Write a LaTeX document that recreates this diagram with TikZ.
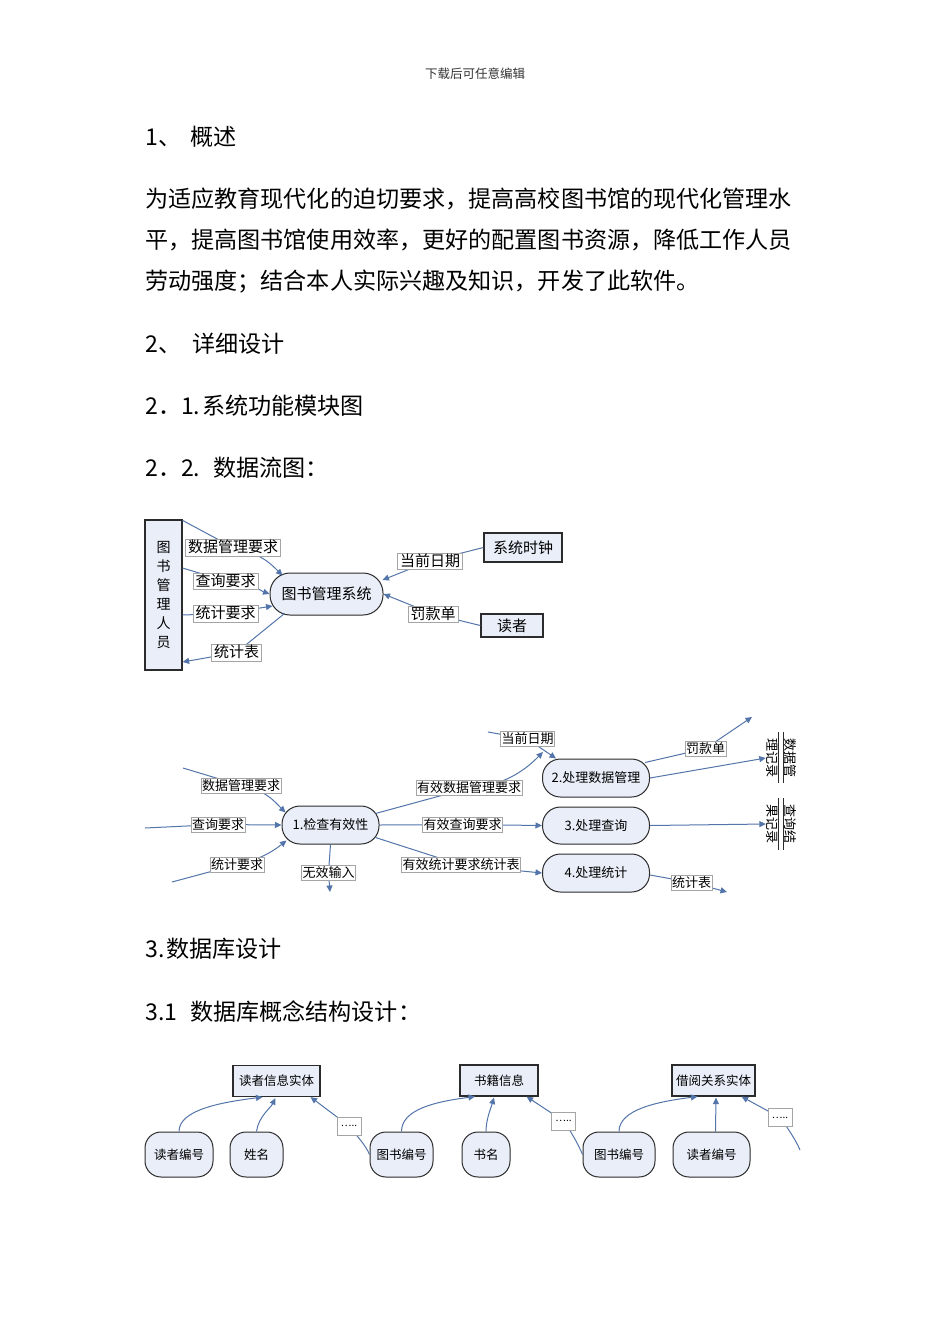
\documentclass[tikz,border=0pt]{standalone}
\usepackage{fontspec}
\setmainfont{Noto Sans CJK SC}
\usetikzlibrary{arrows.meta,calc}
\definecolor{flowc}{HTML}{5475AA}
\definecolor{nfill}{HTML}{E9EEF8}
\definecolor{lblgray}{HTML}{A5A5A5}
\definecolor{edgec}{HTML}{2B2B2B}
\newcommand{\myfs}[1]{\fontsize{#1}{#1}\selectfont}
\tikzset{
  flow/.style={draw=flowc, line width=1pt},
  arr/.style={flow, -{Triangle[length=6.5pt,width=6pt]}},
  lblone/.style={fill=white, draw=lblgray, line width=0.5pt, inner xsep=2.5pt, inner ysep=1pt, text height=12.5pt, text depth=2pt, font=\myfs{15}},
  lbltwo/.style={fill=white, draw=lblgray, line width=0.5pt, inner xsep=1pt, inner ysep=1pt, text height=11pt, text depth=2pt, font=\myfs{13}},
  extbox/.style={draw=edgec, fill=nfill, line width=1.2pt, inner sep=0pt},
  proc/.style={draw=edgec, fill=nfill, line width=1pt, inner sep=0pt, minimum width=107pt, minimum height=38pt, rounded corners=18pt, font=\myfs{13}},
  entbox/.style={draw=edgec, fill=nfill, line width=1.2pt, inner sep=0pt, minimum height=31pt, font=\myfs{12.5}},
  attrbox/.style={draw=edgec, fill=nfill, line width=1pt, inner sep=0pt, minimum height=45pt, rounded corners=16pt, font=\myfs{12.5}},
  dotbox/.style={fill=white, draw=lblgray, line width=0.5pt, inner sep=0pt, minimum width=24pt, minimum height=18pt, font=\myfs{10}},
  headtxt/.style={anchor=west, inner sep=0pt, font=\myfs{23.1}},
  store/.style={rotate=-90, align=center, inner sep=0pt, font=\fontsize{13}{18}\selectfont},
  storeline/.style={draw=edgec, line width=0.8pt},
}
\begin{document}
\begin{tikzpicture}[x=1pt,y=-1pt]
\useasboundingbox (0,0) rectangle (950,1344);
\fill[white] (0,0) rectangle (950,1344);

% ---------- text ----------
\node[font=\myfs{12.5}, text=black!80] (hdr) at (475,74) {下载后可任意编辑};
\node[headtxt] (h1) at (145,137) {\makebox[45pt][l]{1、}概述};
\node[anchor=west, inner sep=0pt, align=left, font=\fontsize{23.1}{41}\selectfont] (para) at (145,241)
  {为适应教育现代化的迫切要求，提高高校图书馆的现代化管理水\\平，提高图书馆使用效率，更好的配置图书资源，降低工作人员\\劳动强度；结合本人实际兴趣及知识，开发了此软件。};
\node[headtxt] (h2) at (145,344) {\makebox[47pt][l]{2、}详细设计};
\node[headtxt] (h21) at (145,406) {\makebox[57pt][l]{2．1.}系统功能模块图};
\node[headtxt] (h22) at (145,468) {\makebox[68pt][l]{2．2.}数据流图：};
\node[headtxt] (h3) at (145,949) {\makebox[21pt][l]{3.}数据库设计};
\node[headtxt] (h31) at (145,1012) {\makebox[45pt][l]{3.1}数据库概念结构设计：};

% ---------- diagram 1 ----------
\node[extbox, minimum width=37pt, minimum height=150pt, align=center, font=\fontsize{14}{19}\selectfont] (staff) at (163.5,595) {图\\书\\管\\理\\人\\员};
\node[proc, minimum width=113pt, minimum height=42pt, rounded corners=20pt, font=\myfs{15}] (sys) at (326.5,594) {图书管理系统};
\node[extbox, minimum width=78pt, minimum height=29pt, font=\myfs{15}] (clock) at (523,547.5) {系统时钟};
\node[extbox, minimum width=62pt, minimum height=23pt, font=\myfs{15}] (reader) at (512,625.5) {读者};

\coordinate (l1) at (233,547.5);
\coordinate (l2) at (225.5,581);
\coordinate (l3) at (225.5,613.5);
\coordinate (l4) at (236.5,652.5);
\coordinate (l5) at (430,561);
\coordinate (l6) at (433,614);

\draw[arr] ($(staff.north east)+(0,1)$) -- (l1) .. controls +(28,6) and +(-12,-12) .. ($(sys.north west)+(13,3)$);
\draw[arr] ($(staff.east)+(0,-27)$) -- (l2) .. controls +(25,2) and +(-8,-3) .. (sys.west);
\draw[arr] ($(staff.east)+(0,20)$) -- (l3) -- ($(sys.west)+(3,12)$);
\draw[arr] ($(sys.south west)+(15,-2)$) -- (l4) -- ($(staff.east)+(0,67)$);
\draw[arr] (clock.west) -- (l5) -- ($(sys.east)+(-1,-14)$);
\draw[arr] (reader.west) -- (l6) -- (sys.east);

\node[lblone] at (l1) {数据管理要求};
\node[lblone] at (l2) {查询要求};
\node[lblone] at (l3) {统计要求};
\node[lblone] at (l4) {统计表};
\node[lblone] at (l5) {当前日期};
\node[lblone] at (l6) {罚款单};

% ---------- diagram 2 ----------
\node[proc, minimum width=97pt] (n1) at (330.5,825) {1.检查有效性};
\node[proc] (n2) at (596,778) {2.处理数据管理};
\node[proc, minimum height=37pt] (n3) at (596,825.5) {3.处理查询};
\node[proc] (n4) at (596,873) {4.处理统计};
\node[store] (st1) at (781,758) {数据管\\理记录};
\node[store] (st2) at (781,824) {查询结\\果记录};
\draw[storeline] ($(st1.center)+(-3,-26)$) -- ($(st1.center)+(-3,25)$);
\draw[storeline] ($(st1.center)+(2,-26)$) -- ($(st1.center)+(2,25)$);
\draw[storeline] ($(st2.center)+(-3,-26)$) -- ($(st2.center)+(-3,26)$);
\draw[storeline] ($(st2.center)+(2,-26)$) -- ($(st2.center)+(2,26)$);

\coordinate (d1) at (241,785.5);
\coordinate (d2) at (218,824.5);
\coordinate (d3) at (237,864.5);
\coordinate (d4) at (328.5,873);
\coordinate (d5) at (469,788);
\coordinate (d6) at (527.5,739);
\coordinate (d7) at (462.5,824.5);
\coordinate (d8) at (461,865);
\coordinate (d9) at (705.5,748.5);
\coordinate (d10) at (691.5,882.5);
\coordinate (c1) at (183,768);
\coordinate (c2) at (145,828);
\coordinate (c3) at (172,882);
\coordinate (c4) at (330,892);
\coordinate (c5) at (543,752);
\coordinate (c6) at (488,732);
\coordinate (c9) at (752,717);
\coordinate (c10) at (727,892);

\draw[arr] (c1) -- (d1) .. controls +(25,5) and +(-12,-12) .. ($(n1.north west)+(4,7)$);
\draw[arr] (c2) -- (d2) -- (n1.west);
\draw[arr] (c3) -- (d3) .. controls +(25,-5) and +(-10,8) .. ($(n1.south west)+(5,-4)$);
\draw[arr] (n1.south) -- (d4) -- (c4);
\draw[arr] ($(n1.north east)+(-4,8)$) -- (d5) .. controls +(40,-2) and +(-12,12) .. (c5);
\draw[arr] (c6) -- (d6) -- ($(n2.north west)+(14,0)$);
\draw[arr] (n1.east) -- (d7) -- (n3.west);
\draw[arr] ($(n1.south east)+(-4,-7)$) -- (d8) -- (n4.west);
\draw[arr] ($(n2.north east)+(-5,4)$) -- (d9) -- (c9);
\draw[arr] (n2.east) -- (st1.south);
\draw[arr] (n3.east) -- (st2.south);
\draw[arr] ($(n4.east)+(0,2)$) -- (d10) -- (c10);

\node[lbltwo] at (d1) {数据管理要求};
\node[lbltwo] at (d2) {查询要求};
\node[lbltwo] at (d3) {统计要求};
\node[lbltwo] at (d4) {无效输入};
\node[lbltwo] at (d5) {有效数据管理要求};
\node[lbltwo] at (d6) {当前日期};
\node[lbltwo] at (d7) {有效查询要求};
\node[lbltwo] at (d8) {有效统计要求统计表};
\node[lbltwo] at (d9) {罚款单};
\node[lbltwo] at (d10) {统计表};

% ---------- diagram 3 ----------
\node[entbox, minimum width=87pt] (e1) at (276.5,1081) {读者信息实体};
\node[entbox, minimum width=78pt] (e2) at (499,1080.5) {书籍信息};
\node[entbox, minimum width=83pt] (e3) at (713.5,1080.5) {借阅关系实体};
\node[attrbox, minimum width=68pt] (a1) at (179,1154.5) {读者编号};
\node[attrbox, minimum width=53pt] (a2) at (256.5,1154.5) {姓名};
\node[attrbox, minimum width=63pt] (a3) at (401.5,1154.5) {图书编号};
\node[attrbox, minimum width=48pt] (a4) at (486,1154.5) {书名};
\node[attrbox, minimum width=72pt] (a5) at (619,1154.5) {图书编号};
\node[attrbox, minimum width=77pt] (a6) at (711.5,1154.5) {读者编号};

\coordinate (p1) at (349,1126);
\coordinate (p2) at (563.5,1121);
\coordinate (p3) at (780,1117.5);
\coordinate (q) at (800,1150);

\draw[arr] (a1.north) .. controls +(0,-22) and +(-40,5) .. ($(e1.south)+(-14,0)$);
\draw[arr] (a2.north) .. controls +(2,-15) and +(-5,10) .. ($(e1.south)+(-1,1)$);
\draw[arr] (a3.west) .. controls +(-4,-10) and +(6,8) .. (p1) -- ($(e1.south east)+(-10,0)$);
\draw[arr] (a3.north) .. controls +(0,-22) and +(-40,5) .. ($(e2.south)+(-24,0)$);
\draw[arr] (a4.north) .. controls +(0,-12) and +(-3,10) .. ($(e2.south)+(-5,1)$);
\draw[arr] (a5.west) .. controls +(-4,-10) and +(6,8) .. (p2) -- ($(e2.south east)+(-12,0)$);
\draw[arr] (a5.north) .. controls +(0,-22) and +(-40,5) .. ($(e3.south)+(-16,0)$);
\draw[arr] ($(a6.north)+(4,0)$) -- ($(e3.south)+(2.5,1)$);
\draw[arr] (q) .. controls +(-4,-10) and +(6,8) .. (p3) -- ($(e3.south east)+(-14,0)$);

\node[dotbox] at (p1) {…..};
\node[dotbox] at (p2) {…..};
\node[dotbox] at (p3) {…..};
\end{tikzpicture}
\end{document}
